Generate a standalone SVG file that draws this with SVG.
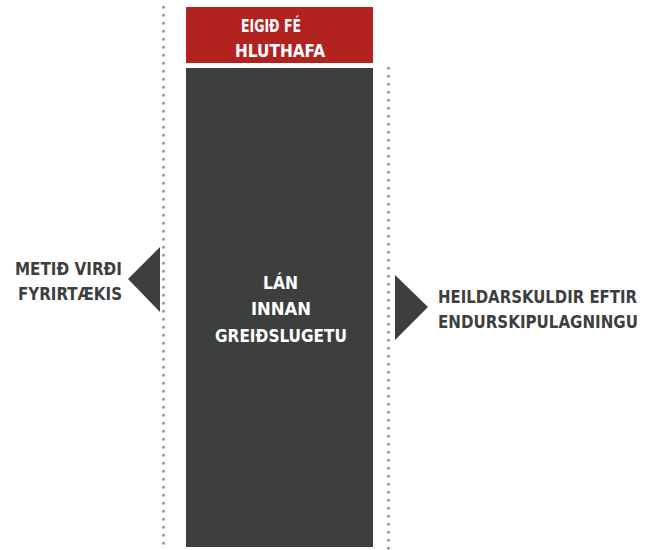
<svg xmlns="http://www.w3.org/2000/svg" width="654" height="550" viewBox="0 0 654 550">
<style>
.t{font-family:"DejaVu Sans Condensed","DejaVu Sans","Liberation Sans",sans-serif;font-weight:bold;font-size:18px}
.w{fill:#ffffff}
.g{fill:#3d3f3e}
.dot{stroke:#8a8a8a;stroke-width:2.5;stroke-dasharray:2.5 5.5;fill:none}
</style>
<rect width="654" height="550" fill="#ffffff"/>
<g id="connectors">
<line class="dot" x1="163.5" y1="6" x2="163.5" y2="550"/>
<line class="dot" x1="388.5" y1="67" x2="388.5" y2="550"/>
<polygon points="128,279 160,247 160,312" fill="#3d3f3e"/>
<polygon points="395,275 395,340 428,307" fill="#3d3f3e"/>
</g>
<g id="equity">
<rect x="186" y="7" width="187" height="56" fill="#b2221f"/>
<text class="t w" x="241" y="32" textLength="60" lengthAdjust="spacingAndGlyphs">EIGIÐ FÉ</text>
<text class="t w" x="235" y="57" textLength="90" lengthAdjust="spacingAndGlyphs">HLUTHAFA</text>
</g>
<g id="loan">
<rect x="186" y="68" width="187" height="479" fill="#3d3f3e"/>
<text class="t w" x="263" y="289" textLength="35" lengthAdjust="spacingAndGlyphs">LÁN</text>
<text class="t w" x="251" y="315" textLength="60" lengthAdjust="spacingAndGlyphs">INNAN</text>
<text class="t w" x="215" y="342" textLength="132" lengthAdjust="spacingAndGlyphs">GREIÐSLUGETU</text>
</g>
<g id="value">
<text class="t g" x="15" y="275" textLength="107" lengthAdjust="spacingAndGlyphs">METIÐ VIRÐI</text>
<text class="t g" x="18" y="300" textLength="104" lengthAdjust="spacingAndGlyphs">FYRIRTÆKIS</text>
</g>
<g id="debt">
<text class="t g" x="438" y="303" textLength="199" lengthAdjust="spacingAndGlyphs">HEILDARSKULDIR EFTIR</text>
<text class="t g" x="438" y="328" textLength="200" lengthAdjust="spacingAndGlyphs">ENDURSKIPULAGNINGU</text>
</g>
</svg>
